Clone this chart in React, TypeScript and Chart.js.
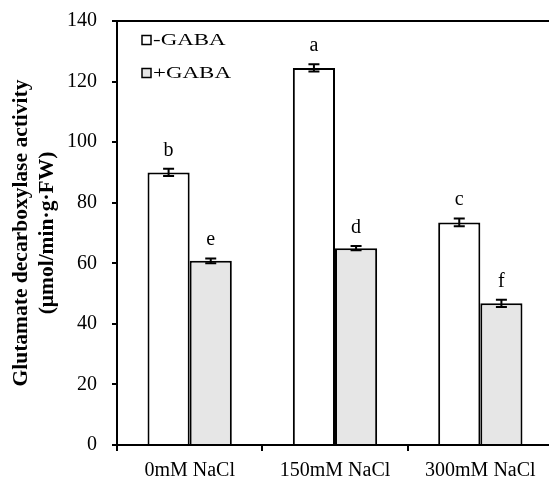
import React, { useEffect, useRef } from "react";
import { Chart, registerables } from "chart.js";

Chart.register(...registerables);

const categories = ["0mM NaCl", "150mM NaCl", "300mM NaCl"];
const minusGaba = [90, 124.5, 73.5];
const plusGaba = [60.8, 65, 46.8];
const minusErr = [1.2, 1.2, 1.3];
const plusErr = [0.8, 0.7, 1.2];
const minusLetters = ["b", "a", "c"];
const plusLetters = ["e", "d", "f"];
const seriesNames = ["-GABA", "+GABA"];
const yTitle = ["Glutamate decarboxylase activity", "(μmol/min·g·FW)"];

const FONT = "'Liberation Serif', 'Times New Roman', serif";
const GRAY = "#e6e6e6";

const extrasPlugin = {
  id: "extras",
  afterDatasetsDraw(chart: any) {
    const ctx = chart.ctx;
    const y = chart.scales.y;
    const area = chart.chartArea;
    const errs = [minusErr, plusErr];
    const letters = [minusLetters, plusLetters];
    const values = [minusGaba, plusGaba];
    ctx.save();
    // top border line
    ctx.strokeStyle = "#000";
    ctx.lineWidth = 2;
    ctx.beginPath();
    ctx.moveTo(area.left - 5, area.top);
    ctx.lineTo(area.right, area.top);
    ctx.stroke();
    // error bars and letters
    for (let d = 0; d < 2; d++) {
      const meta = chart.getDatasetMeta(d);
      meta.data.forEach((bar: any, i: number) => {
        const v = values[d][i];
        const e = errs[d][i];
        const yTop = y.getPixelForValue(v + e);
        const yBot = y.getPixelForValue(v - e);
        const cx = bar.x;
        ctx.strokeStyle = "#000";
        ctx.lineWidth = 2;
        ctx.beginPath();
        ctx.moveTo(cx, yTop);
        ctx.lineTo(cx, yBot);
        ctx.moveTo(cx - 5.5, yTop);
        ctx.lineTo(cx + 5.5, yTop);
        ctx.moveTo(cx - 5.5, yBot);
        ctx.lineTo(cx + 5.5, yBot);
        ctx.stroke();
        ctx.fillStyle = "#000";
        ctx.font = `20px ${FONT}`;
        ctx.textAlign = "center";
        ctx.textBaseline = "alphabetic";
        ctx.fillText(letters[d][i], cx, yTop - 13);
      });
    }
    // legend
    const lx = area.left + 25;
    const rows = [area.top + 19, area.top + 52];
    const fills = ["#ffffff", GRAY];
    for (let k = 0; k < 2; k++) {
      const cy = rows[k];
      ctx.fillStyle = fills[k];
      ctx.fillRect(lx, cy - 4.5, 9, 9);
      ctx.strokeStyle = "#000";
      ctx.lineWidth = 1.5;
      ctx.strokeRect(lx, cy - 4.5, 9, 9);
      ctx.save();
      ctx.translate(lx + 11, cy);
      ctx.scale(1.35, 1);
      ctx.fillStyle = "#000";
      ctx.font = `17px ${FONT}`;
      ctx.textAlign = "left";
      ctx.textBaseline = "middle";
      ctx.fillText(seriesNames[k], 0, 1);
      ctx.restore();
    }
    ctx.restore();
  },
};

export default function App() {
  const ref = useRef<HTMLCanvasElement>(null);
  useEffect(() => {
    if (!ref.current) return;
    const chart = new Chart(ref.current, {
      type: "bar",
      data: {
        labels: categories,
        datasets: [
          {
            label: seriesNames[0],
            data: minusGaba,
            backgroundColor: "#ffffff",
            borderColor: "#000",
            borderWidth: 2,
            borderSkipped: "bottom",
          },
          {
            label: seriesNames[1],
            data: plusGaba,
            backgroundColor: GRAY,
            borderColor: "#000",
            borderWidth: 2,
            borderSkipped: "bottom",
          },
        ],
      },
      options: {
        responsive: false,
        animation: false,
        events: [],
        layout: { padding: { top: 21, right: 3, left: 0, bottom: 0 } },
        datasets: { bar: { barPercentage: 1, categoryPercentage: 0.58 } },
        plugins: { legend: { display: false }, tooltip: { enabled: false } },
        scales: {
          x: {
            grid: {
              display: true,
              drawOnChartArea: false,
              drawTicks: true,
              tickLength: 6,
              color: "#000",
              lineWidth: 2,
            },
            border: { display: true, color: "#000", width: 2 },
            ticks: { color: "#000", font: { family: FONT, size: 20 }, padding: 8 },
            afterFit: (s: any) => {
              s.height = 36;
              s.paddingLeft = 0;
              s.paddingRight = 0;
            },
          },
          y: {
            min: 0,
            max: 140,
            ticks: {
              stepSize: 20,
              color: "#000",
              font: { family: FONT, size: 20 },
              padding: 15,
            },
            grid: {
              display: true,
              drawOnChartArea: false,
              drawTicks: true,
              tickLength: 5,
              color: "#000",
              lineWidth: 2,
            },
            border: { display: true, color: "#000", width: 2 },
            title: {
              display: true,
              text: yTitle,
              color: "#000",
              font: { family: FONT, size: 21.5, weight: "bold", lineHeight: 1.2 },
              padding: { top: 9, bottom: 0 },
            },
            afterFit: (s: any) => {
              s.width = 117;
              s.paddingTop = 0;
              s.paddingBottom = 0;
            },
          },
        },
      },
      plugins: [extrasPlugin],
    });
    return () => chart.destroy();
  }, []);
  return (
    <div
      style={{
        position: "fixed",
        left: 0,
        top: 0,
        width: 549,
        height: 481,
        overflow: "hidden",
        background: "#fff",
      }}
    >
      <canvas ref={ref} width={556} height={481} style={{ width: 556, height: 481, display: "block" }} />
    </div>
  );
}
